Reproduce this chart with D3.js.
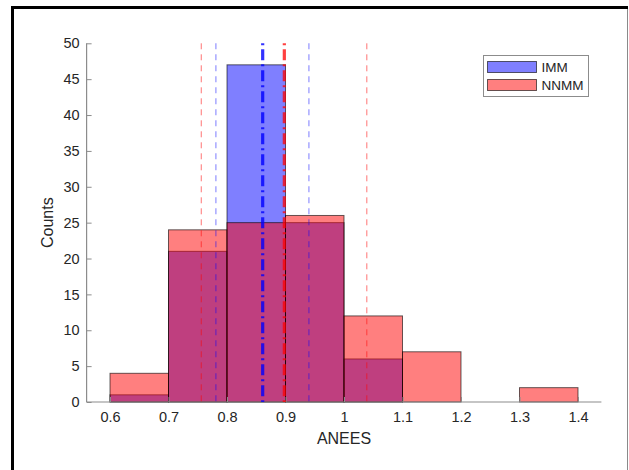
<!DOCTYPE html>
<html>
<head>
<meta charset="utf-8">
<script src="https://cdn.jsdelivr.net/npm/d3@7/dist/d3.min.js"></script>
<style>
  html, body { margin: 0; padding: 0; background: #fff; }
  svg { display: block; font-family: "Liberation Sans", Arial, sans-serif; }
</style>
</head>
<body>
<svg id="chart" width="629" height="470"></svg>
<script>
// Histogram bin edges (ANEES) and counts per series
const binEdges = [0.6, 0.7, 0.8, 0.9, 1.0, 1.1, 1.2, 1.3, 1.4];
const immCounts = [1, 21, 47, 25, 6, 0, 0, 0];
const nnmmCounts = [4, 24, 25, 26, 12, 7, 0, 2];

// Mean and mean ± std markers for each series
const immMean = 0.861;
const immBand = [0.781, 0.940];
const nnmmMean = 0.898;
const nnmmBand = [0.756, 1.039];

const xTicks = [0.6, 0.7, 0.8, 0.9, 1, 1.1, 1.2, 1.3, 1.4];
const yTicks = [0, 5, 10, 15, 20, 25, 30, 35, 40, 45, 50];
const seriesNames = ["IMM", "NNMM"];

const svg = d3.select("#chart");

// Figure frame
svg.append("line").attr("x1", 11).attr("x2", 628).attr("y1", 7.5).attr("y2", 7.5)
  .attr("stroke", "#000").attr("stroke-width", 3);
svg.append("line").attr("x1", 12.5).attr("x2", 12.5).attr("y1", 6).attr("y2", 470)
  .attr("stroke", "#000").attr("stroke-width", 3);
svg.append("line").attr("x1", 627.5).attr("x2", 627.5).attr("y1", 9).attr("y2", 470)
  .attr("stroke", "#8a8a8a").attr("stroke-width", 1);

const x = d3.scaleLinear().domain([0.56, 1.44]).range([86.6, 601.4]);
const y = d3.scaleLinear().domain([0, 50]).range([402, 43.3]);

const g = svg.append("g");

function drawBars(counts, fill) {
  g.append("g").selectAll("rect")
    .data(counts)
    .join("rect")
    .attr("x", (d, i) => x(binEdges[i]))
    .attr("width", (d, i) => x(binEdges[i + 1]) - x(binEdges[i]))
    .attr("y", d => y(d))
    .attr("height", d => y(0) - y(d))
    .attr("fill", fill)
    .attr("fill-opacity", 0.5)
    .attr("stroke", "#000")
    .attr("stroke-opacity", 0.6)
    .attr("stroke-width", 1);
}
drawBars(immCounts, "#0000ff");
drawBars(nnmmCounts, "#ff0000");

// Axes
const xAxis = d3.axisBottom(x).tickValues(xTicks).tickSize(-5).tickPadding(10)
  .tickFormat(d => d3.format("~g")(d));
const yAxis = d3.axisLeft(y).tickValues(yTicks).tickSize(-5).tickPadding(7);

const gx = svg.append("g").attr("transform", `translate(0,${y(0)})`).call(xAxis);
const gy = svg.append("g").attr("transform", `translate(${x(0.56)},0)`).call(yAxis);
[gx, gy].forEach(a => {
  a.select(".domain").attr("stroke", "#8c8c8c").attr("stroke-width", 1.2);
  a.selectAll(".tick line").attr("stroke", "#8c8c8c");
  a.selectAll(".tick text").attr("fill", "#262626").attr("font-size", 14.5);
});
gx.select(".domain").attr("d", `M${x(0.56)},0H${x(1.44)}`);
gy.select(".domain").attr("d", `M0,${y(0)}V${y(50)}`);

// Mean ± std (thin dashed)
const vTop = y(50), vBot = y(0);
function vline(v, color, opacity, width, dash) {
  svg.append("line")
    .attr("x1", x(v)).attr("x2", x(v))
    .attr("y1", vTop).attr("y2", vBot)
    .attr("stroke", color).attr("stroke-opacity", opacity)
    .attr("stroke-width", width).attr("stroke-dasharray", dash);
}
nnmmBand.forEach(v => vline(v, "#ff0000", 0.55, 1, "6,5"));
immBand.forEach(v => vline(v, "#0000ff", 0.4, 1.3, "6,5"));
// Means (thick dash-dot)
vline(immMean, "#0000ff", 0.8, 3.2, "2,4,11,4");
vline(nnmmMean, "#ff0000", 0.75, 3.2, "2,4,11,4");

// Axis labels
svg.append("text").attr("x", x(1)).attr("y", 444).attr("text-anchor", "middle")
  .attr("font-size", 16).attr("fill", "#262626").text("ANEES");
svg.append("text").attr("transform", `translate(53,${(y(0) + y(50)) / 2}) rotate(-90)`)
  .attr("text-anchor", "middle").attr("font-size", 16).attr("fill", "#262626").text("Counts");

// Legend
const lg = svg.append("g").attr("transform", "translate(483,55)");
lg.append("rect").attr("x", 0.5).attr("y", 0.5).attr("width", 105).attr("height", 41)
  .attr("fill", "#fff").attr("stroke", "#8c8c8c").attr("stroke-width", 1);
const legendFills = ["#0000ff", "#ff0000"];
seriesNames.forEach((name, i) => {
  const row = lg.append("g").attr("transform", `translate(4.5,${6.5 + i * 18})`);
  row.append("rect").attr("width", 49).attr("height", 11)
    .attr("fill", legendFills[i]).attr("fill-opacity", 0.5)
    .attr("stroke", "#000").attr("stroke-opacity", 0.6);
  row.append("text").attr("x", 54).attr("y", 10.5).attr("font-size", 13.5)
    .attr("fill", "#262626").text(name);
});
</script>
</body>
</html>
